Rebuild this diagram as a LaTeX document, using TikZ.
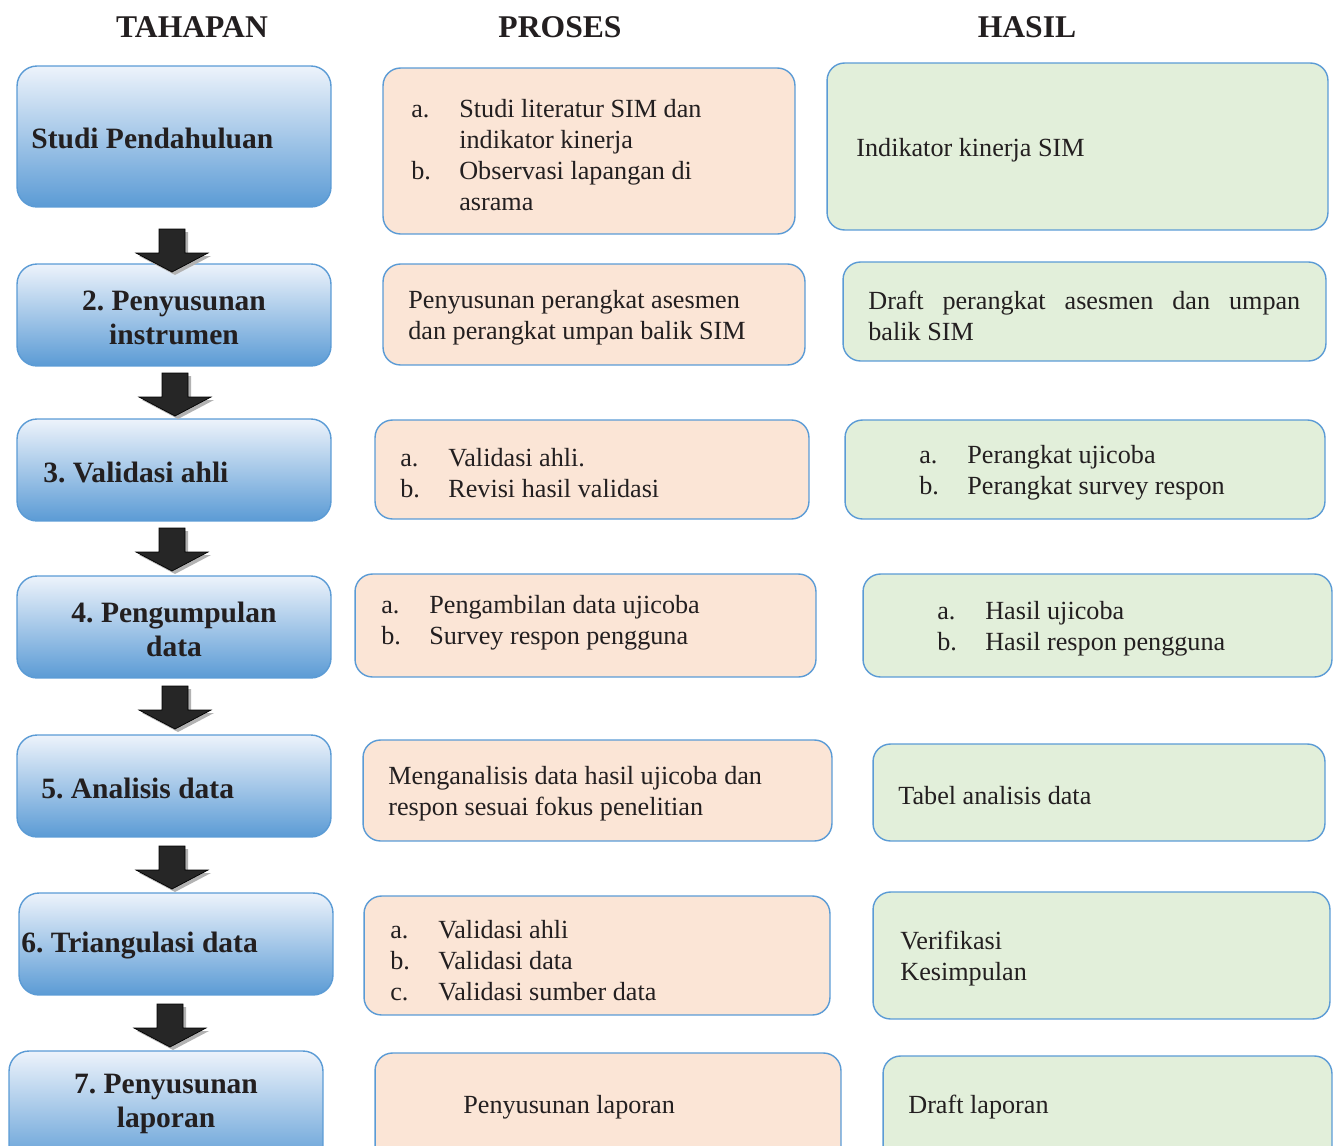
\documentclass[tikz,border=0pt]{standalone}
\usepackage{fontspec}
\setmainfont{Liberation Serif}
\frenchspacing
\definecolor{ink}{HTML}{231F20}
\definecolor{edge}{HTML}{5B9BD5}
\definecolor{tahaptop}{HTML}{EDF3FB}
\definecolor{tahapbot}{HTML}{5B9BD5}
\definecolor{peach}{HTML}{FBE5D6}
\definecolor{sage}{HTML}{E2EFDA}
\newcommand{\li}[1]{\makebox[0.96cm][l]{#1}}

\begin{document}
\begin{tikzpicture}[x=0.02cm,y=-0.02cm,
  every node/.style={inner sep=0pt,text=ink},
  tahap/.style={draw=edge,line width=0.8pt,rounded corners=0.4cm,top color=tahaptop,bottom color=tahapbot},
  proses/.style={draw=edge,line width=0.8pt,rounded corners=0.35cm,fill=peach},
  hasil/.style={draw=edge,line width=0.8pt,rounded corners=0.35cm,fill=sage},
  judul/.style={font=\fontsize{18}{20}\selectfont\bfseries},
  tebal/.style={font=\fontsize{16.8}{19.4}\selectfont\bfseries,align=center},
  isi/.style={font=\fontsize{14.9}{17.6}\selectfont,align=left,anchor=west}]
  \useasboundingbox (0,0) rectangle (1336,1146);
  \clip (0,0) rectangle (1336,1146);
  % judul kolom
  \node[judul] (jt) at (192,27) {TAHAPAN};
  \node[judul] (jp) at (560,27) {PROSES};
  \node[judul] (jh) at (1027,27) {HASIL};
  % tahapan
  \node[tahap,minimum width=6.28cm,minimum height=2.82cm] (t1) at (174,136.5) {};
  \node[tahap,minimum width=6.28cm,minimum height=2.04cm] (t2) at (174,315) {};
  \node[tahap,minimum width=6.28cm,minimum height=2.04cm] (t3) at (174,470) {};
  \node[tahap,minimum width=6.28cm,minimum height=2.04cm] (t4) at (174,627) {};
  \node[tahap,minimum width=6.28cm,minimum height=2.04cm] (t5) at (174,786) {};
  \node[tahap,minimum width=6.28cm,minimum height=2.04cm] (t6) at (176,944) {};
  \node[tahap,minimum width=6.28cm,minimum height=2.38cm] (t7) at (166,1110.5) {};
  \node[tebal,anchor=west] (t1x) at (31,138) {Studi Pendahuluan};
  \node[tebal] (t2x) at (174,318) {2. Penyusunan\\instrumen};
  \node[tebal,anchor=west] (t3x) at (43,472) {3. Validasi ahli};
  \node[tebal] (t4x) at (174,629) {4. Pengumpulan\\data};
  \node[tebal,anchor=west] (t5x) at (41,788) {5. Analisis data};
  \node[tebal,anchor=west] (t6x) at (21,946) {6. Triangulasi data};
  \node[tebal] (t7x) at (166,1104) {7. Penyusunan\\laporan};
  % panah antar tahapan
  \foreach \x/\y in {172/229,175/373,172/528,175/686,172/846,170/1004}{
    \fill[black!30,shift={(\x+3,\y+3)}] (-13,0) -- (13,0) -- (13,24) -- (36,24) -- (0,43) -- (-36,24) -- (-13,24) -- cycle;
    \filldraw[fill=black!85,draw=black,shift={(\x,\y)}] (-13,0) -- (13,0) -- (13,24) -- (36,24) -- (0,43) -- (-36,24) -- (-13,24) -- cycle;
  }
  % proses
  \node[proses,minimum width=8.24cm,minimum height=3.32cm] (p1) at (589,151) {};
  \node[proses,minimum width=8.44cm,minimum height=2.02cm] (p2) at (594,314.5) {};
  \node[proses,minimum width=8.68cm,minimum height=1.98cm] (p3) at (592,469.5) {};
  \node[proses,minimum width=9.22cm,minimum height=2.06cm] (p4) at (585.5,625.5) {};
  \node[proses,minimum width=9.38cm,minimum height=2.02cm] (p5) at (597.5,790.5) {};
  \node[proses,minimum width=9.32cm,minimum height=2.38cm] (p6) at (597,955.5) {};
  \node[proses,minimum width=9.32cm,minimum height=2.34cm] (p7) at (608,1111.5) {};
  \node[isi] (p1x) at (411,155) {\li{a.}Studi literatur SIM dan\\\li{}indikator kinerja\\\li{b.}Observasi lapangan di\\\li{}asrama};
  \node[isi] (p2x) at (408,318) {Penyusunan perangkat asesmen\\dan perangkat umpan balik SIM};
  \node[isi] (p3x) at (400,473) {\li{a.}Validasi ahli.\\\li{b.}Revisi hasil validasi};
  \node[isi] (p4x) at (381,623) {\li{a.}Pengambilan data ujicoba\\\li{b.}Survey respon pengguna};
  \node[isi] (p5x) at (388,794) {Menganalisis data hasil ujicoba dan\\respon sesuai fokus penelitian};
  \node[isi] (p6x) at (390,961) {\li{a.}Validasi ahli\\\li{b.}Validasi data\\\li{c.}Validasi sumber data};
  \node[isi] (p7x) at (463,1107) {Penyusunan laporan};
  % hasil
  \node[hasil,minimum width=10.02cm,minimum height=3.34cm] (h1) at (1077.5,146.5) {};
  \node[hasil,minimum width=9.66cm,minimum height=1.98cm] (h2) at (1084.5,311.5) {};
  \node[hasil,minimum width=9.6cm,minimum height=1.98cm] (h3) at (1085,469.5) {};
  \node[hasil,minimum width=9.38cm,minimum height=2.06cm] (h4) at (1097.5,625.5) {};
  \node[hasil,minimum width=9.04cm,minimum height=1.94cm] (h5) at (1099,792.5) {};
  \node[hasil,minimum width=9.14cm,minimum height=2.54cm] (h6) at (1101.5,955.5) {};
  \node[hasil,minimum width=8.98cm,minimum height=2.28cm] (h7) at (1107.5,1113) {};
  \node[isi] (h1x) at (856,150) {Indikator kinerja SIM};
  \node[isi] (h2x) at (868,316) {\makebox[8.64cm][s]{Draft perangkat asesmen dan umpan}\\balik SIM};
  \node[isi] (h3x) at (919,473) {\li{a.}Perangkat ujicoba\\\li{b.}Perangkat survey respon};
  \node[isi] (h4x) at (937,629) {\li{a.}Hasil ujicoba\\\li{b.}Hasil respon pengguna};
  \node[isi] (h5x) at (898,796) {Tabel analisis data};
  \node[isi] (h6x) at (900,959) {Verifikasi\\Kesimpulan};
  \node[isi] (h7x) at (908,1107) {Draft laporan};
\end{tikzpicture}
\end{document}
